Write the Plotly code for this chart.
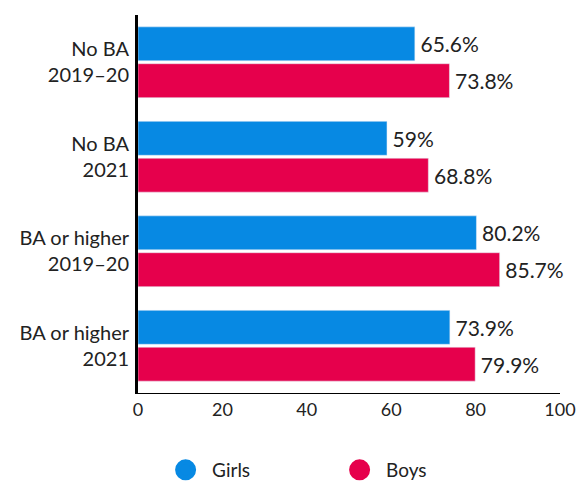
import plotly.graph_objects as go

categories = ["No BA<br>2019–20", "No BA<br>2021", "BA or higher<br>2019–20", "BA or higher<br>2021"]
girls = [65.6, 59, 80.2, 73.9]
boys = [73.8, 68.8, 85.7, 79.9]
girls_labels = ["65.6%", "59%", "80.2%", "73.9%"]
boys_labels = ["73.8%", "68.8%", "85.7%", "79.9%"]
x_ticks = [0, 20, 40, 60, 80, 100]

BLUE = "#0789e3"
RED = "#e6004c"
FONT = "Lato, sans-serif"
TXT = "#222222"

fig = go.Figure()
fig.add_trace(go.Bar(y=categories, x=girls, orientation="h", marker_color=BLUE,
                     text=girls_labels, texttemplate="\u2009%{text}",
                     textposition="outside", cliponaxis=False,
                     textfont=dict(size=21, color=TXT, family=FONT),
                     name="Girls", showlegend=False))
fig.add_trace(go.Bar(y=categories, x=boys, orientation="h", marker_color=RED,
                     text=boys_labels, texttemplate="\u2009%{text}",
                     textposition="outside", cliponaxis=False,
                     textfont=dict(size=21, color=TXT, family=FONT),
                     name="Boys", showlegend=False))
# legend-only traces with circle markers
fig.add_trace(go.Scatter(x=[None], y=[None], mode="markers",
                         marker=dict(symbol="circle", size=16, color=BLUE,
                                     line=dict(color=BLUE, width=5)), name="Girls"))
fig.add_trace(go.Scatter(x=[None], y=[None], mode="markers",
                         marker=dict(symbol="circle", size=16, color=RED,
                                     line=dict(color=RED, width=5)), name="Boys"))

fig.update_layout(
    width=577, height=483,
    margin=dict(l=138, r=17, t=15, b=90),
    plot_bgcolor="white", paper_bgcolor="white",
    barmode="group", bargap=0.22, bargroupgap=0.08,
    font=dict(family=FONT, size=19, color=TXT),
    legend=dict(orientation="h", x=0.05, xanchor="left",
                yref="container", y=0.027, yanchor="middle",
                font=dict(size=19, color=TXT, family=FONT),
                itemwidth=43, entrywidth=116, entrywidthmode="pixels", itemsizing="trace"),
)
fig.update_xaxes(range=[0, 100], tickvals=x_ticks, showgrid=False, zeroline=False,
                 showline=True, linecolor="black", linewidth=1, automargin=False,
                 ticks="", tickfont=dict(size=18, color=TXT, family=FONT))
fig.update_yaxes(autorange="reversed", showgrid=False, zeroline=False,
                 showline=True, linecolor="black", linewidth=3, automargin=False,
                 ticks="", ticklabelstandoff=2, tickfont=dict(size=20, color=TXT, family=FONT))

fig.write_html("out.html", config={"displayModeBar": False},
               post_script="document.body.style.margin='0';")
